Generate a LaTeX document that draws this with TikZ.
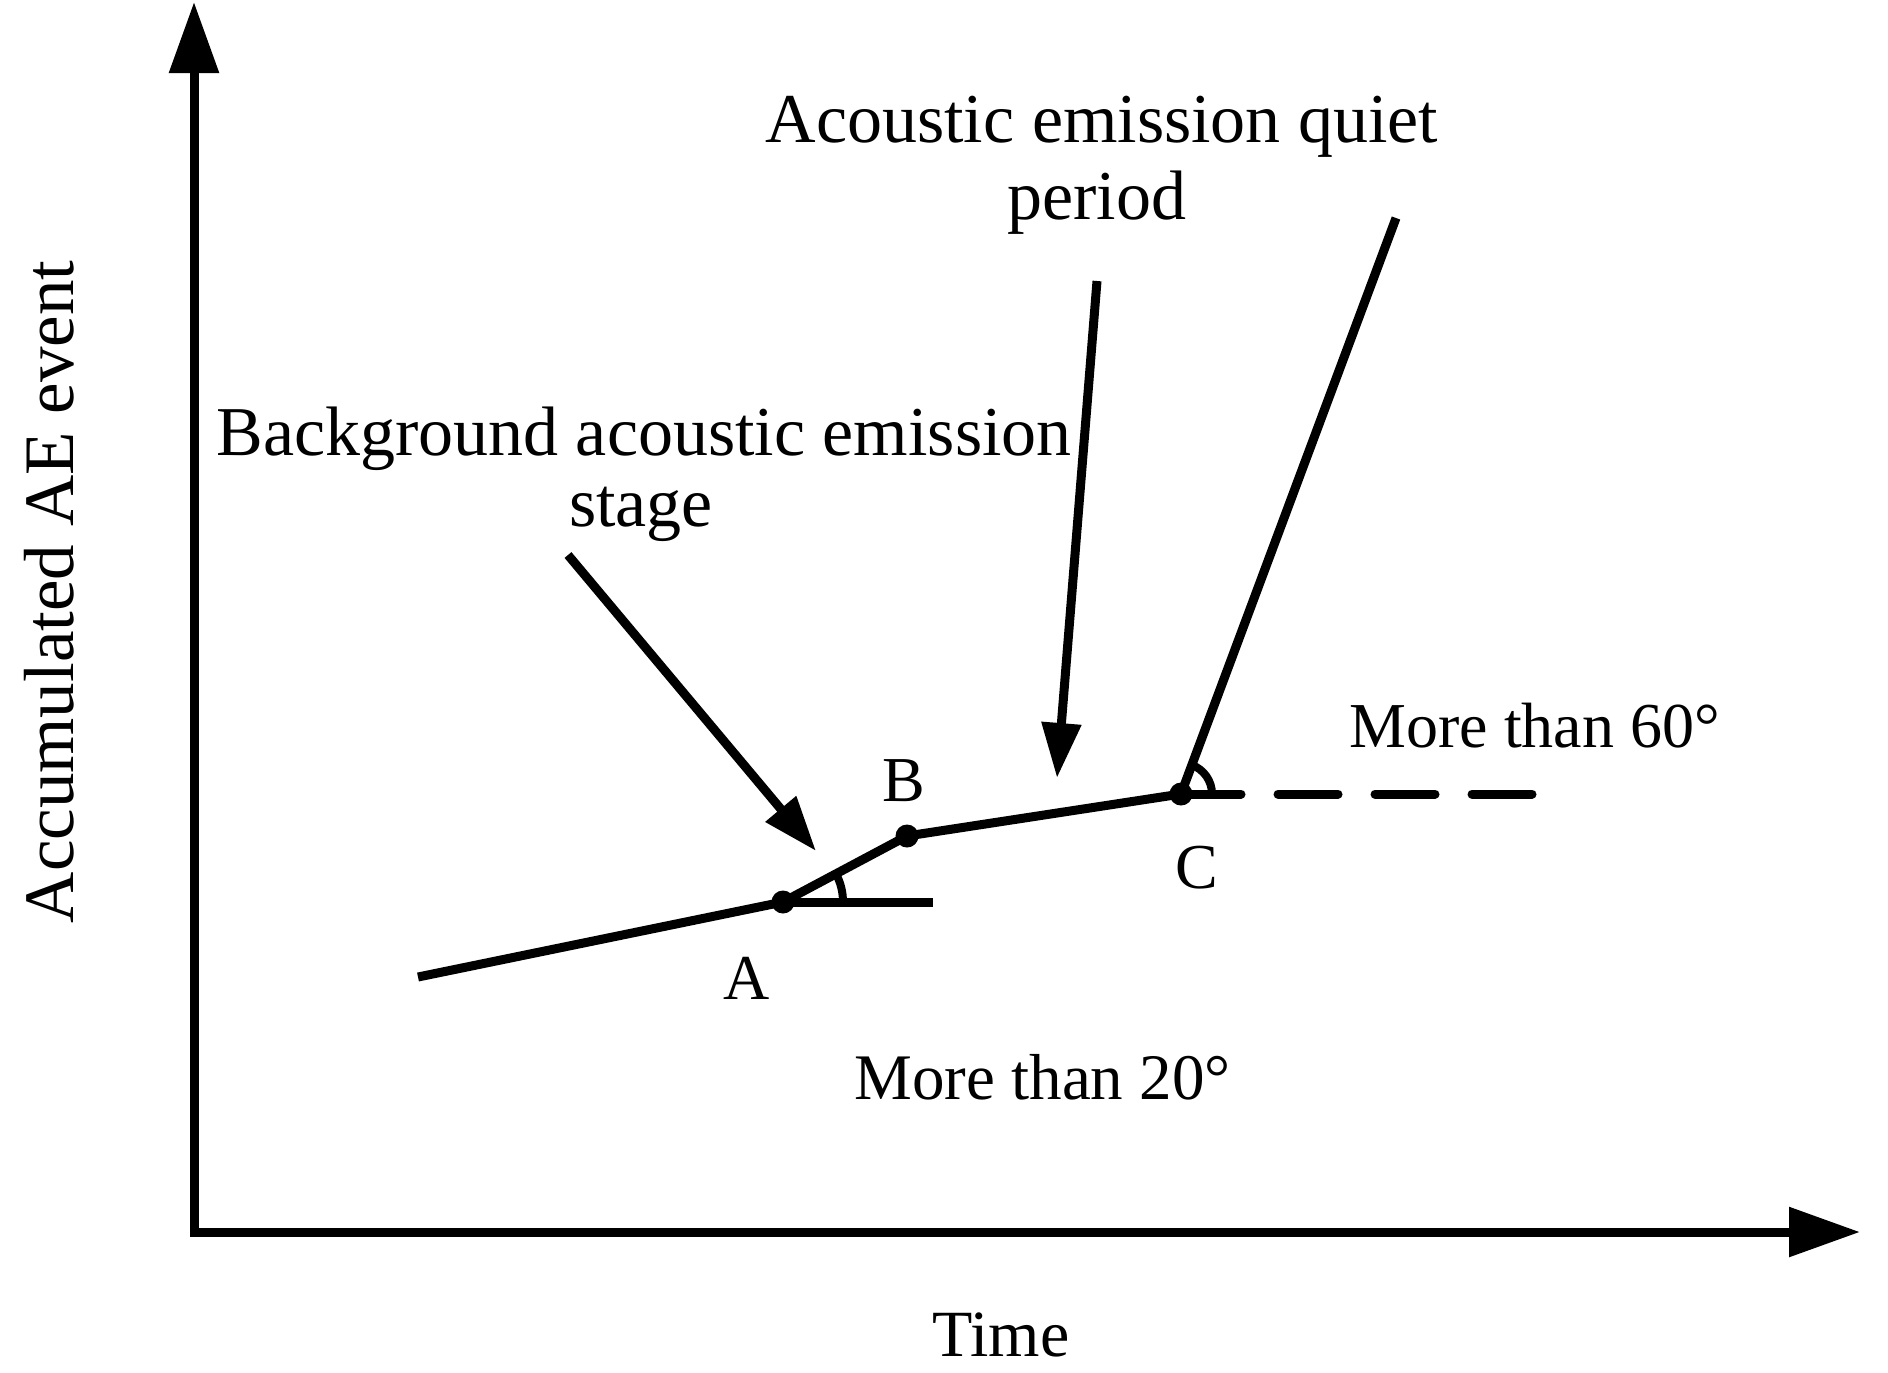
\documentclass[tikz,border=0pt]{standalone}
\usepackage{fontspec}
\setmainfont{Liberation Serif}
\usetikzlibrary{arrows.meta}
\tikzset{
  pala/.style={font=\fontsize{35}{42}\selectfont, anchor=base, inner sep=0pt},
  lbl/.style={font=\fontsize{32}{38}\selectfont, anchor=base, inner sep=0pt},
  tms/.style={font=\fontsize{32}{38}\selectfont, anchor=base west, inner sep=0pt},
  axisline/.style={line width=4.5pt, {Triangle[length=35.5pt, width=24pt]}-{Triangle[length=35.5pt, width=24pt]}},
  curve/.style={line width=4.5pt, line join=round},
  pointer/.style={line width=4.5pt, -{Triangle[length=27.5pt, width=19pt]}},
  dot/.style={circle, fill=black, minimum size=11.5pt, inner sep=0pt},
  anglemark/.style={line width=4pt},
}
\begin{document}
\begin{tikzpicture}[x=0.5pt,y=-0.5pt]
\useasboundingbox (0,0) rectangle (1888,1372);
% axes
\coordinate (ytop) at (194,2);
\coordinate (O) at (194,1232);
\coordinate (xend) at (1860,1232);
\draw[axisline] (ytop) -- (O) -- (xend);
% points
\coordinate (S) at (418,977);
\node[dot] (A) at (783,902) {};
\node[dot] (B) at (907,836) {};
\node[dot] (C) at (1181,794) {};
\coordinate (D) at (1396,218);
\coordinate (Ah) at (933,902);
\coordinate (Ch) at (1536,794);
% curve
\draw[curve] (S) -- (A.center) -- (B.center) -- (C.center) -- (D);
% reference lines
\draw[line width=4.5pt] (A.center) -- (Ah);
\draw[line width=4.5pt, line cap=round, dash pattern=on 30pt off 18.5pt] (C.center) -- (Ch);
% angle marks
\draw[anglemark] ([shift={(60,0)}]A.center) arc[start angle=0, end angle=-28, radius=60];
\draw[anglemark] ([shift={(31,0)}]C.center) arc[start angle=0, end angle=-69.5, radius=31];
% pointers
\coordinate (p1s) at (568,555);
\coordinate (p1e) at (816,851);
\coordinate (p2s) at (1097,281);
\coordinate (p2e) at (1057,778);
\draw[pointer] (p1s) -- (p1e);
\draw[pointer] (p2s) -- (p2e);
% labels
\node[pala] (t1) at (1102,142) {Acoustic emission quiet};
\node[pala] (t2) at (1097,219) {period};
\node[pala] (t3) at (644,455) {Background acoustic emission};
\node[pala] (t4) at (641,526) {stage};
\node[tms] (m60) at (1349,747) {More than 60°};
\node[tms, font=\fontsize{32.5}{38}\selectfont] (m20) at (854,1099) {More than 20°};
\node[lbl] (lA) at (747,999) {A};
\node[lbl] (lB) at (904,801) {B};
\node[lbl] (lC) at (1197,888) {C};
\node[lbl, font=\fontsize{33}{40}\selectfont] (time) at (1001,1356) {Time};
\node[font=\fontsize{35.5}{42}\selectfont, anchor=base, inner sep=0pt, rotate=90] (ylab) at (73,592) {Accumulated AE event};
\end{tikzpicture}
\end{document}
